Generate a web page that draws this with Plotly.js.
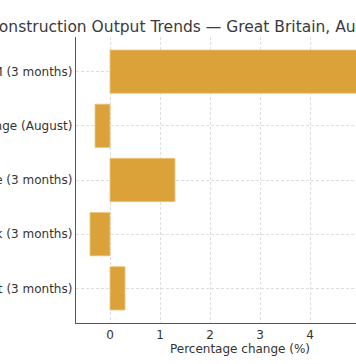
<!DOCTYPE html>
<html>
<head>
<meta charset="utf-8">
<script src="https://cdn.plot.ly/plotly-3.0.1.min.js"></script>
<style>
  html, body { margin: 0; padding: 0; width: 356px; height: 364px; overflow: hidden; background: #fff; }
  #wrap { position: absolute; left: -174px; top: 0; }
  #chart { width: 588px; height: 364px; }
</style>
</head>
<body>
<div id="wrap"><div id="chart"></div></div>
<script>
// Data (bottom to top, as in the source barh)
const categories = [
  "Total output (3 months)",
  "New work (3 months)",
  "Repair & maintenance (3 months)",
  "Monthly change (August)",
  "Year-on-year vs 3M (3 months)"
];
const values = [0.3, -0.4, 1.3, -0.3, 5.6];
const xTicks = [0, 1, 2, 3, 4, 5];
const chartTitle = "Construction Output Trends — Great Britain, August 2025";
const xTitle = "Percentage change (%)";

const font = "DejaVu Sans, Verdana, sans-serif";

const trace = {
  type: "bar",
  orientation: "h",
  y: categories,
  x: values,
  width: 0.8,
  marker: { color: "#DCA23A", line: { color: "#EBC781", width: 0.8 } },
  hoverinfo: "none"
};

const layout = {
  width: 588,
  height: 364,
  margin: { l: 250, r: 10, t: 37, b: 41 },
  paper_bgcolor: "#ffffff",
  plot_bgcolor: "#ffffff",
  showlegend: false,
  font: { family: font, size: 12, color: "#333333" },
  title: {
    text: chartTitle,
    font: { family: font, size: 15.5, color: "#3a3a3a" },
    xref: "container", x: 162 / 588, xanchor: "left",
    yref: "container", y: 1 - 27 / 364, yanchor: "middle"
  },
  xaxis: {
    range: [-0.68, 5.88],
    tickvals: xTicks,
    ticktext: xTicks.map(String),
    showgrid: true,
    gridcolor: "#d4d4d4",
    griddash: "3px,2px",
    gridwidth: 0.8,
    zeroline: false,
    showline: true,
    linecolor: "#555555",
    linewidth: 1.2,
    ticks: "",
    ticklabelstandoff: 0,
    tickfont: { family: font, size: 12, color: "#333333" },
    title: { text: xTitle, font: { family: font, size: 12, color: "#333333" }, standoff: 2 }
  },
  yaxis: {
    type: "category",
    range: [-0.64, 4.64],
    showgrid: true,
    gridcolor: "#d4d4d4",
    griddash: "3px,2px",
    gridwidth: 0.8,
    zeroline: false,
    showline: true,
    linecolor: "#555555",
    linewidth: 1.2,
    ticks: "",
    ticklabelstandoff: 0,
    tickfont: { family: font, size: 12, color: "#333333" }
  },
  bargap: 0.2
};

Plotly.newPlot("chart", [trace], layout, { staticPlot: true, displayModeBar: false });
</script>
</body>
</html>
